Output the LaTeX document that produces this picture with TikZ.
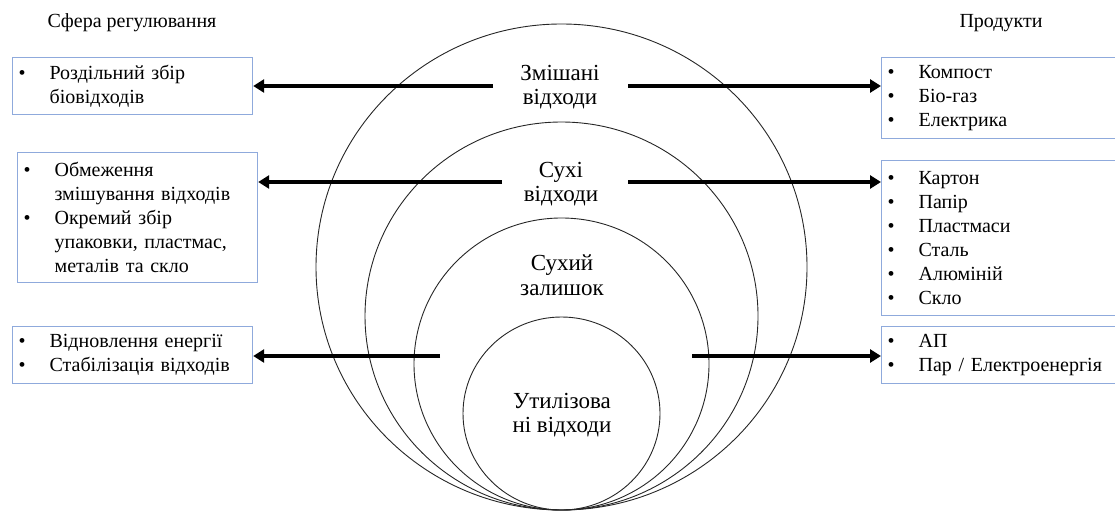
\documentclass[tikz,border=0pt]{standalone}
\usepackage{fontspec}
\setmainfont{Liberation Serif}
\usetikzlibrary{arrows.meta,shapes.geometric}
\definecolor{boxblue}{RGB}{143,170,220}
\newcommand\bl{\makebox[31pt][l]{•}}
\newcommand\ind{\hspace*{31pt}}
\begin{document}
\begin{tikzpicture}[x=1pt,y=-1pt,
  box/.style={draw=boxblue, line width=1.2pt, anchor=north west, inner xsep=6pt, inner ysep=0pt, align=left, font=\fontsize{20}{24}\selectfont},
  ring/.style={ellipse, draw=black!85, line width=0.9pt, inner sep=0pt, outer sep=0pt},
  lbl/.style={align=center, font=\fontsize{23}{24.5}\selectfont, inner sep=0pt},
  ttl/.style={font=\fontsize{20}{24}\selectfont, inner sep=0pt},
  arr/.style={line width=3.6pt, -{Triangle[length=11pt,width=13pt]}}]
\useasboundingbox (0,0) rectangle (1115,511);

% circles
\node[ring, minimum width=491pt, minimum height=486pt] (c1) at (561.5,267) {};
\node[ring, minimum width=393pt, minimum height=388pt] (c2) at (561.5,316) {};
\node[ring, minimum width=295pt, minimum height=292pt] (c3) at (561.5,364) {};
\node[ring, minimum width=197pt, minimum height=193pt] (c4) at (561.5,413.5) {};

% circle labels
\node[lbl] (k1) at (560,87) {Змішані\\відходи};
\node[lbl] (k2) at (561,184) {Сухі\\відходи};
\node[lbl] (k3) at (562,275) {Сухий\\залишок};
\node[lbl] (k4) at (562,415) {Утилізова\\ні відходи};

% titles
\node[ttl] (t1) at (132,23) {Сфера регулювання};
\node[ttl] (t2) at (1001,23) {Продукти};

% left boxes
\node[box, minimum width=240pt, minimum height=57pt, text width=228pt] (l1) at (12,57)
  {\bl Роздільний збір\\\ind біовідходів};
\node[box, minimum width=240pt, minimum height=130pt, text width=228pt] (l2) at (17,152)
  {\bl Обмеження\\\ind змішування відходів\\\bl Окремий збір\\\ind упаковки, пластмас,\\\ind металів та скло};
\node[box, minimum width=240pt, minimum height=57pt, text width=228pt] (l3) at (12,326)
  {\bl Відновлення енергії\\\bl Стабілізація відходів};

% right boxes
\node[box, minimum width=240pt, minimum height=81pt, text width=228pt] (r1) at (881,57)
  {\bl Компост\\\bl Біо-газ\\\bl Електрика};
\node[box, minimum width=240pt, minimum height=155pt, text width=228pt] (r2) at (881,160)
  {\bl Картон\\\bl Папір\\\bl Пластмаси\\\bl Сталь\\\bl Алюміній\\\bl Скло};
\node[box, minimum width=240pt, minimum height=57pt, text width=228pt] (r3) at (881,326)
  {\bl АП\\\bl Пар / Електроенергія};

% arrow starts
\coordinate (s1l) at (493,86);
\coordinate (s1r) at (628,86);
\coordinate (s2l) at (502,182);
\coordinate (s2r) at (628,182);
\coordinate (s3l) at (440,356);
\coordinate (s3r) at (692,356);

\draw[arr] (s1l) -- (s1l -| l1.east);
\draw[arr] (s1r) -- (s1r -| r1.west);
\draw[arr] (s2l) -- (s2l -| l2.east);
\draw[arr] (s2r) -- (s2r -| r2.west);
\draw[arr] (s3l) -- (s3l -| l3.east);
\draw[arr] (s3r) -- (s3r -| r3.west);
\end{tikzpicture}
\end{document}
